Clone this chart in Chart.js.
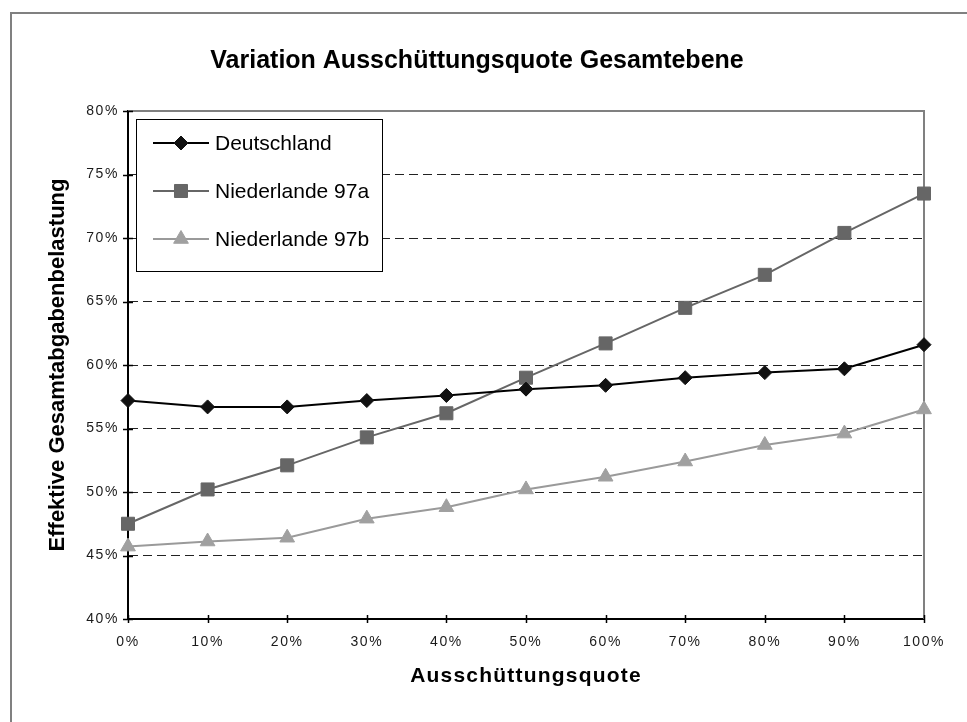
<!DOCTYPE html>
<html>
<head>
<meta charset="utf-8">
<script src="https://cdn.jsdelivr.net/npm/chart.js@4/dist/chart.umd.min.js"></script>
<style>
  html, body { margin: 0; padding: 0; background: #fff; }
  #wrap { width: 967px; height: 722px; position: relative; }
</style>
</head>
<body>
<div id="wrap"><canvas id="c" width="967" height="722"></canvas></div>
<script>
const categories = ['0%', '10%', '20%', '30%', '40%', '50%', '60%', '70%', '80%', '90%', '100%'];
const deutschland = [57.2, 56.7, 56.7, 57.2, 57.6, 58.1, 58.4, 59.0, 59.4, 59.7, 61.6];
const niederlande97a = [47.5, 50.2, 52.1, 54.3, 56.2, 59.0, 61.7, 64.5, 67.1, 70.4, 73.5];
const niederlande97b = [45.7, 46.1, 46.4, 47.9, 48.8, 50.2, 51.2, 52.4, 53.7, 54.6, 56.5];
const seriesNames = ['Deutschland', 'Niederlande 97a', 'Niederlande 97b'];
const yTicks = [40, 45, 50, 55, 60, 65, 70, 75, 80];
const titleText = 'Variation Ausschüttungsquote Gesamtebene';
const xTitle = 'Ausschüttungsquote';
const yTitle = 'Effektive Gesamtabgabenbelastung';

const FONT = "'Liberation Sans', Arial, Helvetica, sans-serif";
const TICK_SPACING = '1.6px';

class SpacedCategory extends Chart.CategoryScale {
  drawLabels(area) { const c = this.ctx; c.save(); c.letterSpacing = TICK_SPACING; super.drawLabels(area); c.restore(); }
  drawTitle() { const c = this.ctx; c.save(); c.letterSpacing = '1.2px'; super.drawTitle(); c.restore(); }
}
SpacedCategory.id = 'spacedCategory';
SpacedCategory.defaults = Chart.CategoryScale.defaults;

class SpacedLinear extends Chart.LinearScale {
  drawLabels(area) { const c = this.ctx; c.save(); c.letterSpacing = TICK_SPACING; super.drawLabels(area); c.restore(); }
}
SpacedLinear.id = 'spacedLinear';
SpacedLinear.defaults = Chart.LinearScale.defaults;
Chart.register(SpacedCategory, SpacedLinear);

const frame = {
  id: 'frame',
  beforeDraw(chart) {
    const ctx = chart.ctx;
    ctx.save();
    ctx.fillStyle = '#fff';
    ctx.fillRect(0, 0, chart.width, chart.height);
    ctx.strokeStyle = '#808080';
    ctx.lineWidth = 2;
    ctx.strokeRect(11, 13, chart.width + 20, chart.height + 20);
    ctx.restore();
  },
  beforeDatasetsDraw(chart) {
    const ctx = chart.ctx;
    const a = chart.chartArea;
    const xs = chart.scales.x, ys = chart.scales.y;
    ctx.save();
    // top and right plot border
    ctx.strokeStyle = '#808080';
    ctx.lineWidth = 2;
    ctx.beginPath();
    ctx.moveTo(a.left, a.top);
    ctx.lineTo(a.right, a.top);
    ctx.lineTo(a.right, a.bottom);
    ctx.stroke();
    // crossing tick marks
    ctx.strokeStyle = '#000';
    ctx.lineWidth = 1.5;
    ctx.beginPath();
    ys.ticks.forEach((t, i) => {
      const py = Math.round(ys.getPixelForTick(i)) + 0.5;
      ctx.moveTo(a.left - 5, py);
      ctx.lineTo(a.left + 5, py);
    });
    xs.ticks.forEach((t, i) => {
      const px = Math.round(xs.getPixelForTick(i)) + 0.5;
      ctx.moveTo(px, a.bottom - 4);
      ctx.lineTo(px, a.bottom + 4);
    });
    ctx.stroke();
    ctx.restore();
  },
  afterDatasetsDraw(chart) {
    const ctx = chart.ctx;
    const bx = 136, by = 119, bw = 246, bh = 152;
    ctx.save();
    ctx.fillStyle = '#fff';
    ctx.fillRect(bx, by, bw, bh);
    ctx.strokeStyle = '#000';
    ctx.lineWidth = 1;
    ctx.strokeRect(bx + 0.5, by + 0.5, bw, bh);
    const rows = [143, 191, 239];
    chart.data.datasets.forEach((ds, i) => {
      const y = rows[i];
      ctx.strokeStyle = ds.borderColor;
      ctx.lineWidth = 2;
      ctx.beginPath();
      ctx.moveTo(153, y);
      ctx.lineTo(209, y);
      ctx.stroke();
      ctx.fillStyle = ds.pointBackgroundColor;
      ctx.strokeStyle = ds.pointBorderColor;
      ctx.lineWidth = 1;
      Chart.helpers.drawPoint(ctx, { pointStyle: ds.pointStyle, radius: ds.pointRadius, rotation: 0, borderWidth: 1 }, 181, y);
      ctx.fillStyle = '#000';
      ctx.font = '21px ' + FONT;
      ctx.textBaseline = 'middle';
      ctx.textAlign = 'left';
      ctx.fillText(ds.label, 215, y + 1);
    });
    ctx.restore();
  }
};

new Chart(document.getElementById('c'), {
  type: 'line',
  data: {
    labels: categories,
    datasets: [
      {
        label: seriesNames[0], data: deutschland,
        borderColor: '#000000', borderWidth: 2,
        pointStyle: 'rectRot', pointRadius: 7,
        pointBackgroundColor: '#111111', pointBorderColor: '#111111', pointBorderWidth: 1,
        tension: 0, clip: false
      },
      {
        label: seriesNames[1], data: niederlande97a,
        borderColor: '#666666', borderWidth: 2,
        pointStyle: 'rect', pointRadius: 9.2,
        pointBackgroundColor: '#666666', pointBorderColor: '#666666', pointBorderWidth: 1,
        tension: 0, clip: false
      },
      {
        label: seriesNames[2], data: niederlande97b,
        borderColor: '#9a9a9a', borderWidth: 2,
        pointStyle: 'triangle', pointRadius: 8.5,
        pointBackgroundColor: '#a0a0a0', pointBorderColor: '#a0a0a0', pointBorderWidth: 1,
        tension: 0, clip: false
      }
    ]
  },
  options: {
    responsive: false,
    animation: false,
    devicePixelRatio: 1,
    layout: { padding: { left: 30, right: 43, top: 0, bottom: 0 } },
    plugins: {
      legend: { display: false },
      tooltip: { enabled: false },
      title: {
        display: true,
        text: titleText,
        color: '#000',
        font: { family: FONT, size: 25, weight: 'bold', lineHeight: 1.2 },
        padding: { top: 46, bottom: 35 }
      }
    },
    scales: {
      x: {
        type: 'spacedCategory',
        offset: false,
        grid: { display: false, drawTicks: false },
        border: { display: true, color: '#000', width: 2 },
        ticks: {
          color: '#1a1a1a', padding: 15, maxRotation: 0, autoSkip: false,
          font: { family: FONT, size: 14 }
        },
        title: {
          display: true, text: xTitle, color: '#000',
          font: { family: FONT, size: 21, weight: 'bold', lineHeight: 1.2 },
          padding: { top: 0, bottom: 33 }
        },
        afterFit(scale) { scale.height = 103; }
      },
      y: {
        type: 'spacedLinear',
        min: 40, max: 80,
        afterBuildTicks(scale) { scale.ticks = yTicks.map(v => ({ value: v })); },
        grid: {
          drawTicks: false,
          lineWidth: 1,
          color: (c) => (c.tick && (c.tick.value === 40 || c.tick.value === 80)) ? 'rgba(0,0,0,0)' : '#222222'
        },
        border: { display: true, color: '#000', width: 2, dash: [9, 5] },
        ticks: {
          color: '#1a1a1a', padding: 9,
          font: { family: FONT, size: 14 },
          callback: (v) => v + '%'
        },
        title: {
          display: true, text: yTitle, color: '#000',
          font: { family: FONT, size: 22, weight: 'bold', lineHeight: 1.2 },
          padding: { top: 15, bottom: 0 }
        },
        afterFit(scale) { scale.width = 98; }
      }
    }
  },
  plugins: [frame]
});
</script>
</body>
</html>
